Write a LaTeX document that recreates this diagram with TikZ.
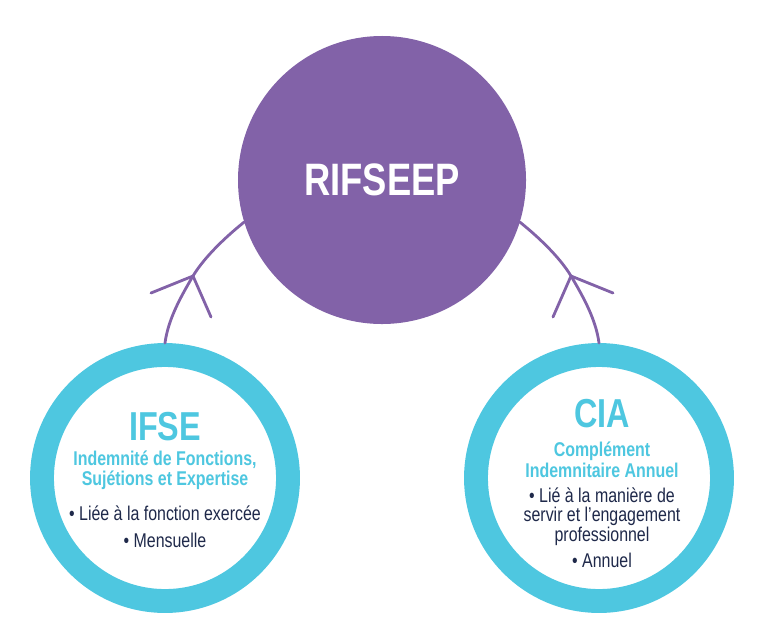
\documentclass[tikz,border=0pt]{standalone}
\usepackage{fontspec}
\setmainfont{Liberation Sans}
\newfontfamily\condsans[FakeStretch=0.8]{Liberation Sans}
\usetikzlibrary{positioning, calc}
\definecolor{rifpurple}{RGB}{130, 98, 168}
\definecolor{rifcyan}{RGB}{78, 199, 224}
\definecolor{rifnavy}{RGB}{31, 41, 74}

\begin{document}
\begin{tikzpicture}[x=0.03cm, y=-0.03cm,
  hub/.style={circle, fill=rifpurple, minimum size=8.64cm, inner sep=0pt, text=white, font=\condsans\bfseries\fontsize{38.8}{40}\selectfont},
  ring/.style={circle, draw=rifcyan, fill=white, line width=20.4pt, minimum size=7.38cm, inner sep=0pt},
  link/.style={draw=rifpurple, line width=2.4pt, line cap=round, line join=round},
  ttl/.style={anchor=base, text=rifcyan, font=\condsans\bfseries\fontsize{34.5}{36}\selectfont},
  sub/.style={anchor=base, align=center, inner sep=0pt, text=rifcyan, font=\condsans\bfseries\fontsize{17}{16.6}\selectfont},
  item/.style={anchor=base, align=center, inner sep=0pt, text=rifnavy, font=\condsans\fontsize{17}{16.4}\selectfont}
]
  \useasboundingbox (0,0) rectangle (768,638);

  \node[hub] (rif) at (382,180) {RIFSEEP};
  \node[ring] (ifse) at (165,478) {};
  \node[ring] (cia) at (599,478) {};

  \node[ttl] (ifsettl) at (165,440) {IFSE};
  \node[sub] (ifsesub) at (165,485) {Indemnité de Fonctions,\\Sujétions et Expertise};
  \node[item] (ifseitem1) at (165,520) {• Liée à la fonction exercée};
  \node[item] (ifseitem2) at (165,547) {• Mensuelle};

  \node[ttl] (ciattl) at (602,427) {CIA};
  \node[sub] (ciasub) at (602,477) {Complément\\[1pt]Indemnitaire Annuel};
  \node[item] (ciaitem1) at (602,541) {• Lié à la manière de\\servir et l’engagement\\professionnel};
  \node[item] (ciaitem2) at (602,567) {• Annuel};

  \coordinate (jl) at (193,276);
  \coordinate (jl1) at (151,293);
  \coordinate (jl2) at (211,317);
  \coordinate (jr) at (571,276);
  \coordinate (jr1) at (613,293);
  \coordinate (jr2) at (553,317);

  \draw[link] (rif.197) .. controls (228,235) and (205,256) .. (jl) .. controls (180,298) and (168,320) .. (ifse.north);
  \draw[link] (jl1) -- (jl) -- (jl2);
  \draw[link] (rif.-17) .. controls (536,235) and (559,256) .. (jr) .. controls (584,298) and (596,320) .. (cia.north);
  \draw[link] (jr1) -- (jr) -- (jr2);
\end{tikzpicture}
\end{document}
